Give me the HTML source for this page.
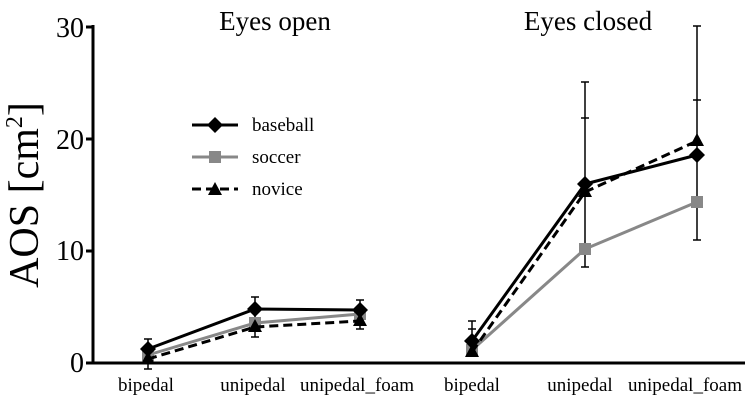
<!DOCTYPE html>
<html><head><meta charset="utf-8"><style>body{margin:0;background:#fff}svg{display:block}</style></head><body>
<svg width="750" height="402" viewBox="0 0 750 402" xmlns="http://www.w3.org/2000/svg" font-family="Liberation Serif, serif">
<rect width="750" height="402" fill="#fff"/>
<text x="275" y="30" font-size="27" text-anchor="middle">Eyes open</text>
<text x="588" y="30" font-size="27" text-anchor="middle">Eyes closed</text>
<text transform="translate(38,195) rotate(-90)" font-size="42" text-anchor="middle">AOS [cm<tspan font-size="24" dy="-16">2</tspan><tspan dy="16">]</tspan></text>
<g font-size="28" text-anchor="end">
<text x="84" y="37">30</text><text x="84" y="149">20</text><text x="84" y="260">10</text><text x="84" y="372">0</text>
</g>
<g stroke="#000" stroke-width="3" fill="none">
<line x1="93" y1="25" x2="93" y2="364"/>
<line x1="86" y1="363" x2="745" y2="363"/>
<line x1="86" y1="27" x2="93" y2="27"/><line x1="86" y1="139" x2="93" y2="139"/><line x1="86" y1="251" x2="93" y2="251"/>
</g>
<g font-size="19" text-anchor="middle">
<text x="146" y="391">bipedal</text><text x="253" y="391">unipedal</text><text x="357" y="391">unipedal_foam</text>
<text x="472" y="391">bipedal</text><text x="580" y="391">unipedal</text><text x="685" y="391">unipedal_foam</text>
</g>
<g stroke="#000" stroke-width="1.5">
<line x1="148" y1="339" x2="148" y2="369"/><line x1="144" y1="339" x2="152" y2="339"/><line x1="144" y1="369" x2="152" y2="369"/>
<line x1="255" y1="297" x2="255" y2="337"/><line x1="251" y1="297" x2="259" y2="297"/><line x1="251" y1="337" x2="259" y2="337"/>
<line x1="360" y1="300" x2="360" y2="329"/><line x1="356" y1="300" x2="364" y2="300"/><line x1="356" y1="329" x2="364" y2="329"/>
<line x1="472" y1="321" x2="472" y2="350"/><line x1="468" y1="321" x2="476" y2="321"/><line x1="468" y1="329" x2="476" y2="329"/>
<line x1="585" y1="82" x2="585" y2="267"/><line x1="581" y1="82" x2="589" y2="82"/><line x1="581" y1="118" x2="589" y2="118"/><line x1="581" y1="267" x2="589" y2="267"/>
<line x1="697" y1="26" x2="697" y2="240"/><line x1="693" y1="26" x2="701" y2="26"/><line x1="693" y1="100" x2="701" y2="100"/><line x1="693" y1="240" x2="701" y2="240"/>
</g>
<g stroke="#888" stroke-width="3" fill="none">
<polyline points="148,355 255,323 360,314"/><polyline points="472,350 585,249 697,202"/>
<line x1="192" y1="157" x2="238" y2="157"/>
</g>
<g fill="#888">
<rect x="142" y="349" width="12" height="12"/><rect x="249" y="317" width="12" height="12"/><rect x="354" y="308" width="12" height="12"/>
<rect x="466" y="344" width="12" height="12"/><rect x="579" y="243" width="12" height="12"/><rect x="691" y="196" width="12" height="12"/>
<rect x="209" y="151" width="12" height="12"/>
</g>
<g stroke="#000" stroke-width="3" fill="none" stroke-dasharray="9,5">
<polyline points="148,359 255,327 360,321"/><polyline points="472,352 585,192 697,141"/>
<line x1="192" y1="189" x2="238" y2="189"/>
</g>
<g fill="#000">
<polygon points="148,351 141,364 155,364"/><polygon points="255,319 248,332 262,332"/><polygon points="360,313 353,326 367,326"/>
<polygon points="472,344 465,357 479,357"/><polygon points="585,184 578,197 592,197"/><polygon points="697,133 690,146 704,146"/>
<polygon points="215,182 208,195 222,195"/>
</g>
<g stroke="#000" stroke-width="3" fill="none">
<polyline points="148,349 255,309 360,310"/><polyline points="472,341 585,184 697,155"/>
<line x1="192" y1="125" x2="238" y2="125"/>
</g>
<g fill="#000">
<polygon points="148,341 156,349 148,357 140,349"/><polygon points="255,301 263,309 255,317 247,309"/><polygon points="360,302 368,310 360,318 352,310"/>
<polygon points="472,333 480,341 472,349 464,341"/><polygon points="585,176 593,184 585,192 577,184"/><polygon points="697,147 705,155 697,163 689,155"/>
<polygon points="215,117 223,125 215,133 207,125"/>
</g>
<g font-size="19">
<text x="252" y="131">baseball</text><text x="252" y="163">soccer</text><text x="252" y="195">novice</text>
</g>
</svg>
</body></html>
